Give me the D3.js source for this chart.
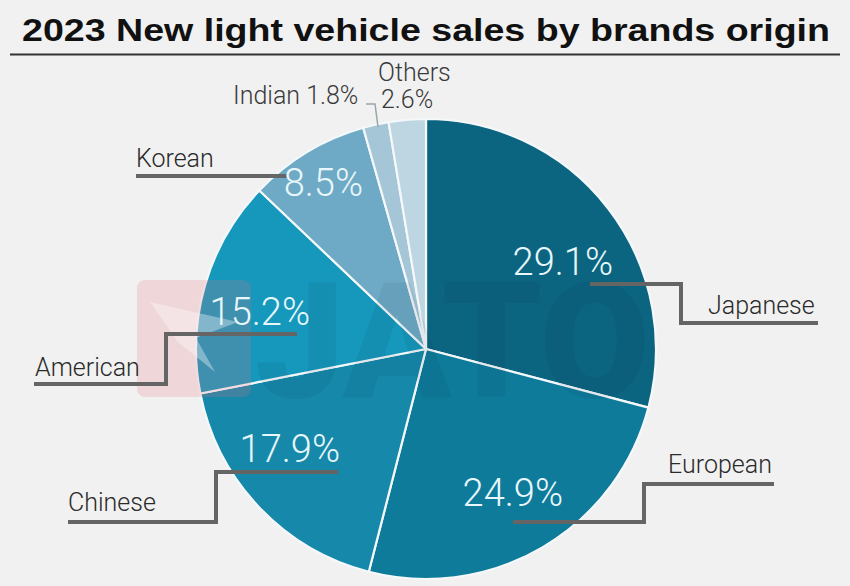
<!DOCTYPE html>
<html>
<head>
<meta charset="utf-8">
<script src="https://cdn.jsdelivr.net/npm/d3@7"></script>
<style>
  html, body { margin: 0; padding: 0; background: #f1f1f1; }
  svg { display: block; }
</style>
</head>
<body>
<svg id="chart"></svg>
<script>
const origins = ['Japanese', 'European', 'Chinese', 'American', 'Korean', 'Indian', 'Others']
const shares = [29.1, 24.9, 17.9, 15.2, 8.5, 1.8, 2.6]
const sliceColors = ['#0b6580', '#0e7b9a', '#1689aa', '#1598bc', '#6eaac5', '#a5c6d6', '#bed6e2']
const title = '2023 New light vehicle sales by brands origin'

// hand placed annotations, like the original infographic
const labelLayout = {
  Japanese: { pct: [613, 275], name: [708, 314], line: [[590, 284], [681, 284], [681, 323], [818, 323]] },
  European: { pct: [563, 506], name: [668, 473], line: [[513, 522], [644, 522], [644, 484], [774, 484]] },
  Chinese:  { pct: [340, 462], name: [68, 511],  line: [[338, 472], [216, 472], [216, 522], [68, 522]] },
  American: { pct: [310, 325], name: [35, 376],  line: [[297, 334], [166, 334], [166, 384], [34, 384]] },
  Korean:   { pct: [363, 196], name: [136, 167], line: [[136, 176], [287, 176]] },
}

const width = 850
const height = 586
const cx = 426
const cy = 349
const radius = 230

const svg = d3.select('#chart')
  .attr('width', width)
  .attr('height', height)

svg.append('rect')
  .attr('width', width)
  .attr('height', height)
  .attr('fill', '#f1f1f1')

// title + rule
svg.append('text')
  .attr('x', 426)
  .attr('y', 41)
  .attr('text-anchor', 'middle')
  .attr('font-family', 'Liberation Sans, Arial, sans-serif')
  .attr('font-weight', 'bold')
  .attr('font-size', 31)
  .attr('textLength', 808)
  .attr('lengthAdjust', 'spacingAndGlyphs')
  .attr('fill', '#111')
  .text(title)

svg.append('line')
  .attr('x1', 10).attr('x2', 840)
  .attr('y1', 54.5).attr('y2', 54.5)
  .attr('stroke', '#333')
  .attr('stroke-width', 2)

const data = origins.map((o, i) => ({ origin: o, share: shares[i], color: sliceColors[i] }))

const pie = d3.pie()
  .sort(null)
  .value(d => d.share)

const arc = d3.arc()
  .innerRadius(0)
  .outerRadius(radius)

const g = svg.append('g')
  .attr('transform', `translate(${cx},${cy})`)

g.selectAll('path')
  .data(pie(data))
  .enter()
  .append('path')
  .attr('d', arc)
  .attr('fill', d => d.data.color)
  .attr('stroke', '#f4f8fa')
  .attr('stroke-width', 2.2)
  .attr('stroke-linejoin', 'round')

// faint watermark
const wm = svg.append('g').attr('pointer-events', 'none')
wm.append('rect')
  .attr('x', 137).attr('y', 280)
  .attr('width', 114).attr('height', 117)
  .attr('rx', 8)
  .attr('fill', 'rgba(236, 110, 120, 0.2)')
wm.append('path')
  .attr('d', 'M150,302 L238,322 L196,338 L215,372 L178,342 Z')
  .attr('fill', 'rgba(255,255,255,0.35)')
wm.append('text')
  .attr('x', 255)
  .attr('y', 397)
  .attr('font-family', 'Roboto, sans-serif')
  .attr('font-weight', 900)
  .attr('font-size', 162)
  .attr('textLength', 395)
  .attr('lengthAdjust', 'spacingAndGlyphs')
  .attr('fill', 'rgba(20, 30, 50, 0.07)')
  .text('JATO')

const lineGen = d3.line()

Object.entries(labelLayout).forEach(([name, l]) => {
  const i = origins.indexOf(name)
  svg.append('path')
    .attr('d', lineGen(l.line))
    .attr('fill', 'none')
    .attr('stroke', '#656565')
    .attr('stroke-width', 4)
  svg.append('text')
    .attr('x', l.pct[0])
    .attr('y', l.pct[1])
    .attr('text-anchor', 'end')
    .attr('font-family', 'Roboto, sans-serif')
    .attr('font-weight', 300)
    .attr('font-size', 38)
    .attr('fill', '#e8f7fb')
    .text(`${shares[i]}%`)
  svg.append('text')
    .attr('x', l.name[0])
    .attr('y', l.name[1])
    .attr('font-family', 'Roboto, sans-serif')
    .attr('font-weight', 300)
    .attr('font-size', 25)
    .attr('fill', '#2a2a2a')
    .text(name)
})

// small slices labelled outside
const indian = origins.indexOf('Indian')
const others = origins.indexOf('Others')
svg.append('path')
  .attr('d', lineGen([[366, 104], [375, 104], [378, 127]]))
  .attr('fill', 'none')
  .attr('stroke', '#9aa4a8')
  .attr('stroke-width', 1.5)
svg.append('text')
  .attr('x', 233).attr('y', 104)
  .attr('font-family', 'Roboto, sans-serif')
  .attr('font-weight', 300)
  .attr('font-size', 25)
  .attr('fill', '#3a3a3a')
  .text(`${origins[indian]} ${shares[indian]}%`)
svg.append('text')
  .attr('x', 378).attr('y', 81)
  .attr('font-family', 'Roboto, sans-serif')
  .attr('font-weight', 300)
  .attr('font-size', 25)
  .attr('fill', '#3a3a3a')
  .text(origins[others])
svg.append('text')
  .attr('x', 381).attr('y', 108)
  .attr('font-family', 'Roboto, sans-serif')
  .attr('font-weight', 300)
  .attr('font-size', 25)
  .attr('fill', '#3a3a3a')
  .text(`${shares[others]}%`)
</script>
</body>
</html>
